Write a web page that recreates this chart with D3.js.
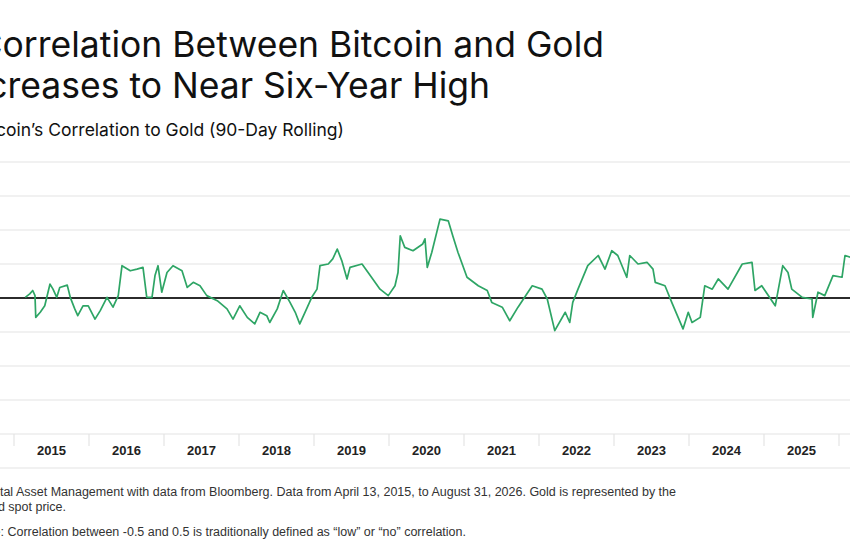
<!DOCTYPE html>
<html>
<head>
<meta charset="utf-8">
<script src="https://cdn.jsdelivr.net/npm/d3@7"></script>
<style>
  body { margin: 0; background: #fff; }
  svg { display: block; }
</style>
</head>
<body>
<svg id="chart" width="850" height="560"></svg>
<script>
// Rolling 90-day correlation (decimal year, value)
var years = [2015.15,2015.21,2015.25,2015.28,2015.29,2015.35,2015.41,2015.48,2015.52,2015.57,2015.61,2015.71,2015.75,2015.81,2015.85,2015.92,2015.99,
  2016.08,2016.15,2016.24,2016.32,2016.39,2016.44,2016.55,2016.64,2016.72,2016.77,2016.84,2016.88,2016.92,2016.97,
  2017.04,2017.12,2017.24,2017.31,2017.39,2017.48,2017.57,2017.71,2017.84,2017.92,
  2018.01,2018.11,2018.21,2018.28,2018.37,2018.41,2018.51,2018.59,2018.68,2018.75,2018.81,2018.88,2018.97,
  2019.04,2019.08,2019.19,2019.25,2019.31,2019.37,2019.44,2019.48,2019.64,2019.75,2019.88,2019.99,
  2020.08,2020.12,2020.15,2020.21,2020.32,2020.45,2020.48,2020.51,2020.57,2020.68,2020.79,2020.85,2020.92,
  2021.04,2021.19,2021.31,2021.37,2021.51,2021.61,2021.72,2021.91,
  2022.04,2022.11,2022.21,2022.35,2022.41,2022.45,2022.52,2022.65,2022.79,2022.88,2022.97,
  2023.05,2023.17,2023.21,2023.32,2023.44,2023.52,2023.55,2023.68,2023.77,2023.92,2023.99,
  2024.04,2024.15,2024.21,2024.31,2024.39,2024.52,2024.71,2024.84,2024.88,2024.97,
  2025.15,2025.25,2025.32,2025.37,2025.51,2025.64,2025.65,2025.72,2025.81,2025.92,
  2026.04,2026.08,2026.15];
var correlation = [0.002,0.012,0.022,0.007,-0.057,-0.042,-0.023,0.041,0.026,0.002,0.031,0.038,0.002,-0.032,-0.052,-0.023,-0.023,
  -0.062,-0.037,0.002,-0.027,0.007,0.095,0.080,0.085,0.090,0.002,0.002,0.066,0.095,0.017,
  0.075,0.095,0.080,0.031,0.046,0.036,0.007,-0.008,-0.032,-0.062,
  -0.023,-0.057,-0.076,-0.042,-0.052,-0.072,-0.032,0.022,-0.013,-0.042,-0.076,-0.042,0.002,
  0.026,0.095,0.100,0.115,0.144,0.110,0.056,0.090,0.100,0.066,0.026,0.007,
  0.036,0.075,0.183,0.149,0.139,0.159,0.174,0.090,0.134,0.232,0.227,0.183,0.134,
  0.061,0.036,0.022,-0.013,-0.027,-0.067,-0.027,0.036,
  0.026,-0.003,-0.096,-0.042,-0.072,-0.013,0.026,0.095,0.125,0.085,0.139,
  0.125,0.061,0.125,0.100,0.105,0.085,0.046,0.036,-0.013,-0.091,-0.042,
  -0.072,-0.057,0.036,0.026,0.056,0.026,0.100,0.105,0.022,0.036,
  -0.023,0.095,0.075,0.026,0.002,-0.003,-0.057,0.017,0.007,0.066,
  0.061,0.125,0.120];
var yearLabels = [2015,2016,2017,2018,2019,2020,2021,2022,2023,2024,2025];
var gridValues = [-0.4,-0.3,-0.2,-0.1,0.1,0.2,0.3,0.4];

var svg = d3.select("#chart");
var x = d3.scaleLinear().domain([2015, 2026]).range([14, 839]);
var y = d3.scaleLinear().domain([-0.4, 0.4]).range([434, 162]);

// Title block (the picture is cropped on the left, so anchor at the end)
svg.append("text").attr("x", 604).attr("y", 57).attr("text-anchor", "end")
  .style("font-family", "Inter, 'Liberation Sans', sans-serif").style("font-size", "35.5px").attr("fill", "#111")
  .text("Correlation Between Bitcoin and Gold");
svg.append("text").attr("x", 490).attr("y", 98).attr("text-anchor", "end")
  .style("font-family", "Inter, 'Liberation Sans', sans-serif").style("font-size", "35.5px").attr("fill", "#111")
  .text("Increases to Near Six-Year High");
svg.append("text").attr("x", 344).attr("y", 136).attr("text-anchor", "end")
  .style("font-family", "Inter, 'Liberation Sans', sans-serif").style("font-size", "17.5px").attr("fill", "#111")
  .text("Bitcoin\u2019s Correlation to Gold (90-Day Rolling)");

// Gridlines
svg.selectAll(".grid").data(gridValues).enter().append("line")
  .attr("x1", 0).attr("x2", 850)
  .attr("y1", d => y(d)).attr("y2", d => y(d))
  .attr("stroke", "#e4e4e4").attr("stroke-width", 1.2);

// Year separators and labels
svg.selectAll(".sep").data(d3.range(2015, 2027)).enter().append("line")
  .attr("x1", d => x(d)).attr("x2", d => x(d))
  .attr("y1", 434).attr("y2", 446)
  .attr("stroke", "#e4e4e4").attr("stroke-width", 1.2);
svg.append("line").attr("x1", 0).attr("x2", 850).attr("y1", 468).attr("y2", 468)
  .attr("stroke", "#e4e4e4").attr("stroke-width", 1.2);
svg.selectAll(".yl").data(yearLabels).enter().append("text")
  .attr("x", d => x(d + 0.5)).attr("y", 455).attr("text-anchor", "middle")
  .style("font-family", "'Liberation Sans Narrow', 'Liberation Sans', sans-serif")
  .style("font-size", "13px").style("font-weight", "bold").attr("fill", "#222")
  .text(d => d);

// Zero line
svg.append("line").attr("x1", 0).attr("x2", 850).attr("y1", y(0)).attr("y2", y(0))
  .attr("stroke", "#2b2b2b").attr("stroke-width", 1.8);

// Correlation line
var pts = years.map((d, i) => [d, correlation[i]]);
svg.append("path").datum(pts)
  .attr("fill", "none").attr("stroke", "#2ea565").attr("stroke-width", 1.7)
  .attr("stroke-linejoin", "round")
  .attr("d", d3.line().x(d => x(d[0])).y(d => y(d[1])));

// Footnotes
var foot = [
  ["Source: Fidelity Digital Asset Management with data from Bloomberg. Data from April 13, 2015, to August 31, 2026. Gold is represented by the", 676, 496],
  ["gold spot price.", 66, 511],
  ["Note: Correlation between -0.5 and 0.5 is traditionally defined as \u201clow\u201d or \u201cno\u201d correlation.", 466, 536]
];
svg.selectAll(".foot").data(foot).enter().append("text")
  .attr("x", d => d[1]).attr("y", d => d[2]).attr("text-anchor", "end")
  .style("font-family", "'Liberation Sans Narrow', 'Liberation Sans', sans-serif")
  .style("font-size", "12.5px").attr("fill", "#333")
  .text(d => d[0]);
</script>
</body>
</html>
